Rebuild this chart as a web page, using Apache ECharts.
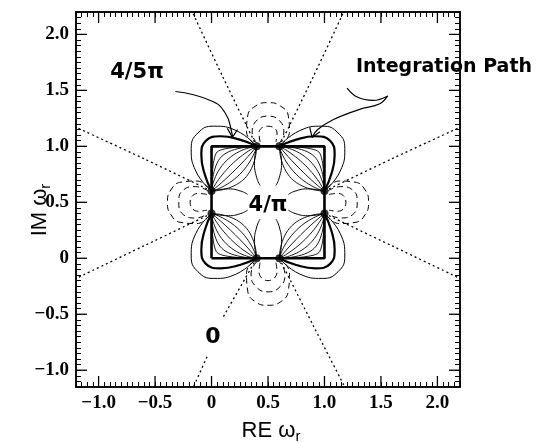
<!DOCTYPE html>
<html>
<head>
<meta charset="utf-8">
<script src="https://cdn.jsdelivr.net/npm/echarts@6/dist/echarts.min.js"></script>
<style>
html, body { margin: 0; padding: 0; background: #fff; }
#main { width: 540px; height: 443px; }
</style>
</head>
<body>
<div id="main"></div>
<script>
// axis ranges and tick labels
var xRange = [-1.2, 2.2];
var yRange = [-1.15, 2.2];
var majorTicks = [-1, -0.5, 0, 0.5, 1, 1.5, 2];

// bold square and the points on it
var squarePath = [[0, 0], [1, 0], [1, 1], [0, 1], [0, 0]];
var nodes = [[0.4, 1], [0.6, 1], [0, 0.6], [0, 0.4], [1, 0.6], [1, 0.4], [0.4, 0], [0.6, 0]];

// rounded integration path round each corner
var pathUL = [[0.4, 1], [0.25, 1.06], [0.08, 1.09], [-0.05, 1.05], [-0.09, 0.92], [-0.06, 0.75], [0, 0.6]];
var pathUR = [[0.6, 1], [0.75, 1.06], [0.92, 1.09], [1.05, 1.05], [1.09, 0.92], [1.06, 0.75], [1, 0.6]];
var pathLL = [[0.4, 0], [0.25, -0.06], [0.08, -0.09], [-0.05, -0.05], [-0.09, 0.08], [-0.06, 0.25], [0, 0.4]];
var pathLR = [[0.6, 0], [0.75, -0.06], [0.92, -0.09], [1.05, -0.05], [1.09, 0.08], [1.06, 0.25], [1, 0.4]];

// thin solid loops outside the corners
var loopUL = [[0.4, 1], [0.22, 1.14], [0.02, 1.18], [-0.12, 1.12], [-0.18, 0.98], [-0.14, 0.78], [0, 0.6]];
var loopUR = [[0.6, 1], [0.78, 1.14], [0.98, 1.18], [1.12, 1.12], [1.18, 0.98], [1.14, 0.78], [1, 0.6]];
var loopLL = [[0.4, 0], [0.22, -0.14], [0.02, -0.18], [-0.12, -0.12], [-0.18, 0.02], [-0.14, 0.22], [0, 0.4]];
var loopLR = [[0.6, 0], [0.78, -0.14], [0.98, -0.18], [1.12, -0.12], [1.18, 0.02], [1.14, 0.22], [1, 0.4]];

// fans of field lines inside the square (dot to dot)
var lensUL = [
  [[0.4, 1], [0.05, 0.95], [0, 0.6]],
  [[0.4, 1], [0.09, 0.91], [0, 0.6]],
  [[0.4, 1], [0.13, 0.87], [0, 0.6]],
  [[0.4, 1], [0.17, 0.83], [0, 0.6]],
  [[0.4, 1], [0.21, 0.79], [0, 0.6]],
  [[0.4, 1], [0.25, 0.75], [0, 0.6]],
  [[0.4, 1], [0.29, 0.71], [0, 0.6]]
];
var lensUR = [
  [[0.6, 1], [0.95, 0.95], [1, 0.6]],
  [[0.6, 1], [0.91, 0.91], [1, 0.6]],
  [[0.6, 1], [0.87, 0.87], [1, 0.6]],
  [[0.6, 1], [0.83, 0.83], [1, 0.6]],
  [[0.6, 1], [0.79, 0.79], [1, 0.6]],
  [[0.6, 1], [0.75, 0.75], [1, 0.6]],
  [[0.6, 1], [0.71, 0.71], [1, 0.6]]
];
var lensLL = [
  [[0.4, 0], [0.05, 0.05], [0, 0.4]],
  [[0.4, 0], [0.09, 0.09], [0, 0.4]],
  [[0.4, 0], [0.13, 0.13], [0, 0.4]],
  [[0.4, 0], [0.17, 0.17], [0, 0.4]],
  [[0.4, 0], [0.21, 0.21], [0, 0.4]],
  [[0.4, 0], [0.25, 0.25], [0, 0.4]],
  [[0.4, 0], [0.29, 0.29], [0, 0.4]]
];
var lensLR = [
  [[0.6, 0], [0.95, 0.05], [1, 0.4]],
  [[0.6, 0], [0.91, 0.09], [1, 0.4]],
  [[0.6, 0], [0.87, 0.13], [1, 0.4]],
  [[0.6, 0], [0.83, 0.17], [1, 0.4]],
  [[0.6, 0], [0.79, 0.21], [1, 0.4]],
  [[0.6, 0], [0.75, 0.25], [1, 0.4]],
  [[0.6, 0], [0.71, 0.29], [1, 0.4]]
];

// short solid lines from the dots towards the centre
var innerLines = [
  [[0.4, 1], [0.38, 0.85], [0.4, 0.72], [0.43, 0.65]],
  [[0.6, 1], [0.62, 0.85], [0.6, 0.72], [0.57, 0.65]],
  [[0.4, 0], [0.38, 0.15], [0.4, 0.28], [0.43, 0.35]],
  [[0.6, 0], [0.62, 0.15], [0.6, 0.28], [0.57, 0.35]],
  [[0, 0.6], [0.15, 0.62], [0.26, 0.6], [0.32, 0.57]],
  [[0, 0.4], [0.15, 0.38], [0.26, 0.4], [0.32, 0.43]],
  [[1, 0.6], [0.85, 0.62], [0.74, 0.6], [0.68, 0.57]],
  [[1, 0.4], [0.85, 0.38], [0.74, 0.4], [0.68, 0.43]]
];

// dashed loops between the two dots of each side
var dashedLoops = [
  [[0.38, 1.02], [0.31, 1.13], [0.32, 1.27], [0.39, 1.36], [0.5, 1.39], [0.61, 1.36], [0.68, 1.27], [0.69, 1.13], [0.62, 1.02]],
  [[0.4, 1.03], [0.36, 1.12], [0.39, 1.22], [0.5, 1.27], [0.61, 1.22], [0.64, 1.12], [0.6, 1.03]],
  [[0.43, 1.04], [0.42, 1.12], [0.5, 1.18], [0.58, 1.12], [0.57, 1.04]],
  [[0.38, -0.02], [0.31, -0.13], [0.32, -0.29], [0.39, -0.39], [0.5, -0.42], [0.61, -0.39], [0.68, -0.29], [0.69, -0.13], [0.62, -0.02]],
  [[0.4, -0.03], [0.35, -0.14], [0.39, -0.25], [0.5, -0.3], [0.61, -0.25], [0.65, -0.14], [0.6, -0.03]],
  [[0.43, -0.04], [0.42, -0.12], [0.5, -0.2], [0.58, -0.12], [0.57, -0.04]],
  [[-0.02, 0.62], [-0.13, 0.69], [-0.27, 0.68], [-0.36, 0.61], [-0.39, 0.5], [-0.36, 0.39], [-0.27, 0.32], [-0.13, 0.31], [-0.02, 0.38]],
  [[-0.03, 0.6], [-0.14, 0.64], [-0.25, 0.61], [-0.29, 0.5], [-0.25, 0.39], [-0.14, 0.36], [-0.03, 0.4]],
  [[-0.04, 0.57], [-0.12, 0.58], [-0.19, 0.5], [-0.12, 0.42], [-0.04, 0.43]],
  [[1.02, 0.62], [1.13, 0.69], [1.27, 0.68], [1.36, 0.61], [1.39, 0.5], [1.36, 0.39], [1.27, 0.32], [1.13, 0.31], [1.02, 0.38]],
  [[1.03, 0.6], [1.14, 0.64], [1.25, 0.61], [1.29, 0.5], [1.25, 0.39], [1.14, 0.36], [1.03, 0.4]],
  [[1.04, 0.57], [1.12, 0.58], [1.19, 0.5], [1.12, 0.42], [1.04, 0.43]]
];

// dotted zero level lines out to the frame
var zeroLines = [
  [[0.4, 1], [0.1, 1.62], [-0.17, 2.2]],
  [[0.6, 1], [0.9, 1.62], [1.17, 2.2]],
  [[0, 0.6], [-0.6, 0.89], [-1.2, 1.17]],
  [[0, 0.4], [-0.6, 0.11], [-1.2, -0.18]],
  [[1, 0.6], [1.6, 0.89], [2.2, 1.17]],
  [[1, 0.4], [1.6, 0.11], [2.2, -0.18]],
  [[0.4, 0], [0.1, -0.53]],
  [[-0.04, -0.88], [-0.16, -1.15]],
  [[0.6, 0], [0.9, -0.6], [1.18, -1.15]]
];

// annotation arrows
var arrow45 = [[-0.32, 1.49], [-0.01, 1.41], [0.12, 1.3], [0.18, 1.12], [0.185, 1.08]];
var arrow45Head = [[0.14, 1.16], [0.185, 1.08], [0.23, 1.15]];
var arrowPath = [[1.2, 1.52], [1.29, 1.44], [1.43, 1.41], [1.56, 1.45], [1.49, 1.38], [1.31, 1.33], [1.08, 1.24], [0.94, 1.15], [0.89, 1.08]];
var arrowPathHead = [[0.87, 1.17], [0.89, 1.08], [0.96, 1.13]];

var chart = echarts.init(document.getElementById('main'));

function curve(pts, width, type, smooth) {
  return {
    type: 'line', data: pts, xAxisIndex: 0, yAxisIndex: 0,
    symbol: 'none', smooth: smooth, silent: true,
    lineStyle: { color: '#000', width: width, type: type }
  };
}

// major ticks, drawn inward from each side of the frame
function tickSeries(side) {
  return {
    type: 'custom', xAxisIndex: 0, yAxisIndex: 0, silent: true, clip: false, z: 6,
    data: majorTicks.map(function (v) { return [v]; }),
    renderItem: function (params, api) {
      var v = api.value(0), p, s;
      if (side === 'bottom') { p = api.coord([v, yRange[0]]); s = { x1: p[0], y1: p[1], x2: p[0], y2: p[1] - 11 }; }
      if (side === 'top') { p = api.coord([v, yRange[1]]); s = { x1: p[0], y1: p[1], x2: p[0], y2: p[1] + 11 }; }
      if (side === 'left') { p = api.coord([xRange[0], v]); s = { x1: p[0], y1: p[1], x2: p[0] + 11, y2: p[1] }; }
      if (side === 'right') { p = api.coord([xRange[1], v]); s = { x1: p[0], y1: p[1], x2: p[0] - 11, y2: p[1] }; }
      return { type: 'line', shape: s, style: { stroke: '#000', lineWidth: 1.3 } };
    }
  };
}

var series = [];
zeroLines.forEach(function (p) { series.push(curve(p, 1.3, [2, 3], 0.3)); });
dashedLoops.forEach(function (p) { series.push(curve(p, 1, [6, 4], 0.5)); });
[lensUL, lensUR, lensLL, lensLR].forEach(function (g) {
  g.forEach(function (p) { series.push(curve(p, 0.9, 'solid', 0.6)); });
});
innerLines.forEach(function (p) { series.push(curve(p, 1, 'solid', 0.5)); });
[loopUL, loopUR, loopLL, loopLR].forEach(function (p) { series.push(curve(p, 1, 'solid', 0.5)); });
[pathUL, pathUR, pathLL, pathLR].forEach(function (p) { series.push(curve(p, 2.2, 'solid', 0.5)); });
series.push(curve(squarePath, 2.6, 'solid', false));
series.push(curve(arrow45, 1.2, 'solid', 0.5));
series.push(curve(arrow45Head, 1.2, 'solid', false));
series.push(curve(arrowPath, 1.2, 'solid', 0.4));
series.push(curve(arrowPathHead, 1.2, 'solid', false));
series.push({
  type: 'scatter', data: nodes, symbol: 'circle', symbolSize: 8, silent: true,
  itemStyle: { color: '#000' }, z: 5
});
['bottom', 'top', 'left', 'right'].forEach(function (s) { series.push(tickSeries(s)); });

function fmt(v) {
  if (v === 0) return '0';
  return (v < 0 ? '\u2212' : '') + Math.abs(v).toFixed(1);
}

var frameLine = { show: true, onZero: false, lineStyle: { color: '#000', width: 1.5 } };

function axes(pos, range, withLabel) {
  var main = {
    type: 'value', position: pos, min: range[0], max: range[1],
    axisLine: frameLine,
    axisTick: { show: false },
    axisLabel: withLabel ? {
      show: true, customValues: majorTicks, formatter: fmt, margin: 7,
      fontFamily: 'Liberation Serif', fontWeight: 'bold', fontSize: 19, color: '#000'
    } : { show: false },
    splitLine: { show: false }
  };
  // minor ticks every 0.05
  var minor = {
    type: 'value', position: pos, min: range[0], max: range[1], interval: 0.05,
    axisLine: frameLine,
    axisTick: { show: true, inside: true, length: 5, lineStyle: { color: '#000', width: 1 } },
    axisLabel: { show: false },
    splitLine: { show: false }
  };
  return [main, minor];
}

var rich = {
  a: { fontFamily: 'Liberation Sans', fontSize: 22, fill: '#000', lineHeight: 26 },
  s: { fontFamily: 'Liberation Sans', fontSize: 15, fill: '#000', verticalAlign: 'bottom', lineHeight: 15 }
};

var option = {
  backgroundColor: '#fff',
  animation: false,
  grid: { left: 76, top: 12, width: 384, height: 375 },
  xAxis: axes('bottom', xRange, true).concat(axes('top', xRange, false)),
  yAxis: axes('left', yRange, true).concat(axes('right', yRange, false)),
  series: series,
  graphic: [
    { type: 'text', x: 271, y: 431, style: { text: '{a|RE \u03c9}{s|r}', rich: rich, textAlign: 'center', textVerticalAlign: 'middle' } },
    { type: 'text', x: 40, y: 210, rotation: Math.PI / 2, style: { text: '{a|IM \u03c9}{s|r}', rich: rich, textAlign: 'center', textVerticalAlign: 'middle' } },
    { type: 'text', x: 137, y: 73, style: { text: '4/5\u03c0', font: 'bold 21px "DejaVu Sans"', fill: '#000', textAlign: 'center', textVerticalAlign: 'middle' } },
    { type: 'text', x: 356, y: 67, style: { text: 'Integration Path', font: 'bold 19px "DejaVu Sans"', fill: '#000', textAlign: 'left', textVerticalAlign: 'middle' } },
    { type: 'text', x: 268, y: 206, style: { text: '4/\u03c0', font: 'bold 21px "DejaVu Sans"', fill: '#000', textAlign: 'center', textVerticalAlign: 'middle' } },
    { type: 'text', x: 213, y: 337, style: { text: '0', font: 'bold 22px "DejaVu Sans"', fill: '#000', textAlign: 'center', textVerticalAlign: 'middle' } }
  ]
};

chart.setOption(option);
</script>
</body>
</html>
